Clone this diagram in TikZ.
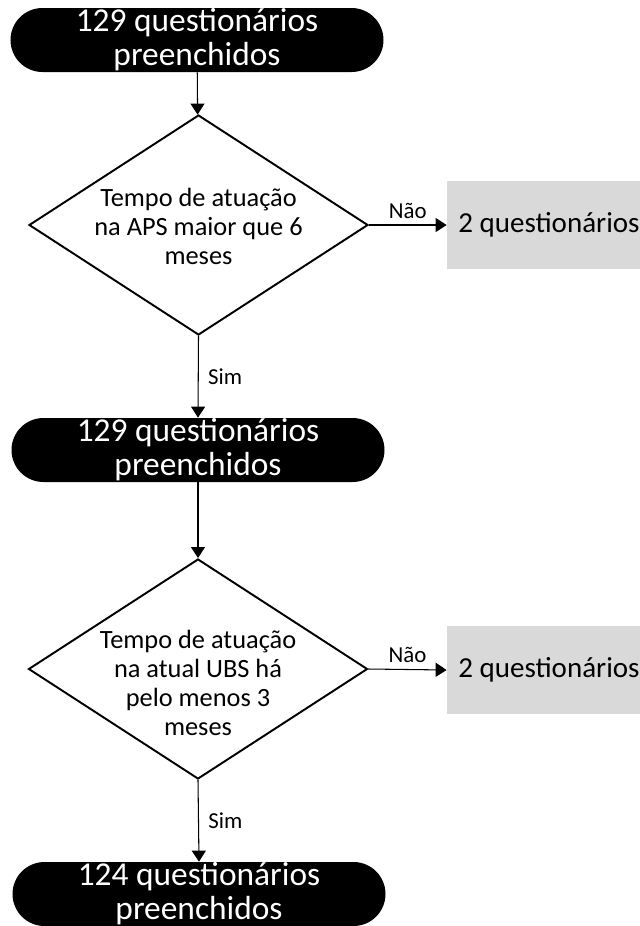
\documentclass[tikz,border=0pt]{standalone}
\usepackage{fontspec}
\setmainfont{Carlito}
\usetikzlibrary{arrows.meta,shapes.geometric}

\begin{document}
\begin{tikzpicture}[
  term/.style={fill=black, text=white, rounded corners=0.64cm, align=center, font=\fontsize{19}{19.5}\selectfont, minimum width=7.46cm, minimum height=1.28cm, inner sep=0pt},
  dec/.style={draw, diamond, line width=1.1pt, minimum width=6.78cm, minimum height=4.4cm, inner sep=0pt},
  dtext/.style={align=center, font=\fontsize{15}{16.5}\selectfont, inner sep=0pt},
  excl/.style={fill=black!15, minimum width=4.08cm, minimum height=1.76cm, font=\fontsize{16.5}{18}\selectfont},
  arr/.style={-{Triangle[length=2.2mm, width=2.8mm]}, line width=0.6pt},
  lab/.style={font=\fontsize{13}{15}\selectfont}]
  \useasboundingbox (0,0) rectangle (12.8,-18.52);
  \node[term] (q1) at (3.94,-0.80) {129 questionários\\preenchidos};
  \node[dec] (d1) at (3.97,-4.50) {};
  \node[dtext] (d1t) at (3.97,-4.52) {Tempo de atuação\\na APS maior que 6\\meses};
  \node[excl] (e1) at (10.98,-4.50) {2 questionários};
  \node[term] (q2) at (3.96,-9.00) {129 questionários\\preenchidos};
  \node[dec] (d2) at (3.96,-13.38) {};
  \node[dtext] (d2t) at (3.96,-13.66) {Tempo de atuação\\na atual UBS há\\pelo menos 3\\meses};
  \node[excl] (e2) at (10.98,-13.40) {2 questionários};
  \node[term] (q3) at (3.98,-17.88) {124 questionários\\preenchidos};

  \draw[arr] (q1) -- (d1);
  \draw[arr] (d1.east) -- node[lab, above] {Não} (e1.west);
  \draw[arr] (d1.south) -- node[lab, right, xshift=2pt] {Sim} (q2.north);
  \draw[arr] (q2) -- (d2);
  \draw[arr] (d2.east) -- node[lab, above] {Não} (e2.west);
  \draw[arr] (d2.south) -- node[lab, right, xshift=2pt] {Sim} (q3.north);
\end{tikzpicture}
\end{document}
